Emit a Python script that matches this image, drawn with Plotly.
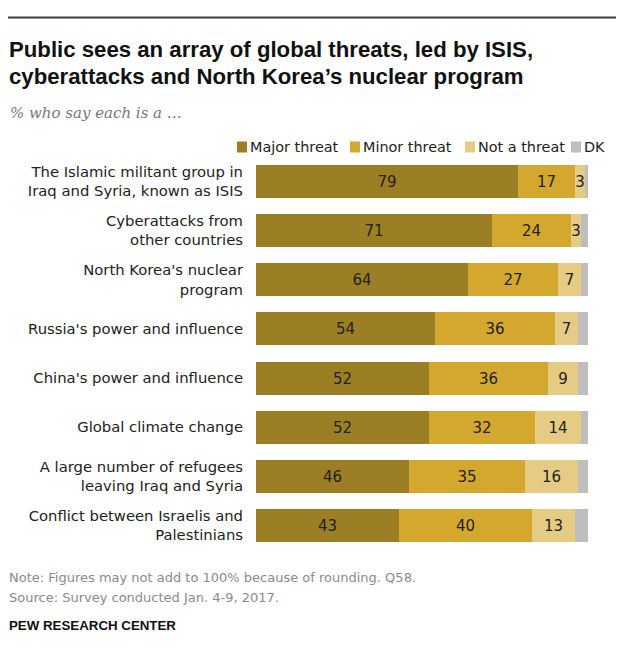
import plotly.graph_objects as go

categories = [
    "The Islamic militant group in<br>Iraq and Syria, known as ISIS",
    "Cyberattacks from<br>other countries",
    "North Korea's nuclear<br>program",
    "Russia's power and influence",
    "China's power and influence",
    "Global climate change",
    "A large number of refugees<br>leaving Iraq and Syria",
    "Conflict between Israelis and<br>Palestinians",
]
major = [79, 71, 64, 54, 52, 52, 46, 43]
minor = [17, 24, 27, 36, 36, 32, 35, 40]
not_threat = [3, 3, 7, 7, 9, 14, 16, 13]
dk = [1, 2, 2, 3, 3, 2, 3, 4]

series_names = ["Major threat", "Minor threat", "Not a threat", "DK"]
series_values = [major, minor, not_threat, dk]
colors = ["#9C7E24", "#D4A82F", "#E6CB85", "#BEBEBE"]
show_text = [True, True, True, False]

OFF = 8  # page body margin
W, H = 624 - OFF, 651 - OFF
L, R, T, B = 256 - OFF, 36, 157 - OFF, 101

SANS = "DejaVu Sans"


def px(x):
    return (x - OFF - L) / (W - L - R)


def py(y):
    return (H - B - (y - OFF)) / (H - T - B)


fig = go.Figure()
ypos = list(range(len(categories)))
for name, vals, col, st in zip(series_names, series_values, colors, show_text):
    fig.add_trace(go.Bar(
        y=ypos, x=vals, orientation="h", name=name,
        marker=dict(color=col, line=dict(width=0)),
        width=0.67,
        text=[str(v) for v in vals] if st else None,
        textposition="inside" if st else "none",
        insidetextanchor="middle",
        textangle=0,
        constraintext="none",
        textfont=dict(family=SANS, size=15, color="#222222"),
        hoverinfo="skip",
    ))

fig.update_layout(
    barmode="stack",
    width=W, height=H,
    margin=dict(l=L, r=R, t=T, b=B, pad=0),
    paper_bgcolor="white", plot_bgcolor="white",
    showlegend=False,
    bargap=0,
    xaxis=dict(range=[0, 100], visible=False, fixedrange=True),
    yaxis=dict(
        range=[len(categories) - 0.5, -0.5],
        tickmode="array", tickvals=ypos, ticktext=categories,
        showgrid=False, zeroline=False, showline=False,
        ticks="", ticklabelstandoff=12,
        tickfont=dict(family=SANS, size=14.8, color="#222222"),
        fixedrange=True,
    ),
    font=dict(family=SANS),
)

ann = []
shapes = []
# top rule
shapes.append(dict(type="line", xref="paper", yref="paper",
                   x0=px(8), x1=px(617), y0=py(17.5), y1=py(17.5),
                   line=dict(color="#3a3a3a", width=2)))
# title (two lines)
title_font = dict(family="Liberation Sans, Arial", size=22.2, color="#111111")
ann.append(dict(xref="paper", yref="paper", x=px(7), y=py(50), xanchor="left", yanchor="middle",
                showarrow=False,
                text="<b>Public sees an array of global threats, led by ISIS,</b>",
                font=title_font))
ann.append(dict(xref="paper", yref="paper", x=px(7), y=py(77), xanchor="left", yanchor="middle",
                showarrow=False,
                text="<b>cyberattacks and North Korea\u2019s nuclear program</b>",
                font=title_font))
# subtitle
ann.append(dict(xref="paper", yref="paper", x=px(8), y=py(113), xanchor="left", yanchor="middle",
                showarrow=False, text="<i>% who say each is a \u2026</i>",
                font=dict(family="DejaVu Serif", size=15, color="#777777")))
# legend
leg_sq = [237, 350, 465, 571]
for name, col, x0 in zip(series_names, colors, leg_sq):
    shapes.append(dict(type="rect", xref="paper", yref="paper",
                       x0=px(x0), x1=px(x0 + 10), y0=py(141.5), y1=py(152.5),
                       fillcolor=col, line=dict(width=0)))
    ann.append(dict(xref="paper", yref="paper", x=px(x0 + 11), y=py(147),
                    xanchor="left", yanchor="middle", showarrow=False, text=name,
                    font=dict(family=SANS, size=14.4, color="#222222")))
# notes
note_font = dict(family=SANS, size=13, color="#8a8a8a")
ann.append(dict(xref="paper", yref="paper", x=px(7), y=py(577), xanchor="left", yanchor="middle",
                showarrow=False,
                text="Note: Figures may not add to 100% because of rounding. Q58.",
                font=note_font))
ann.append(dict(xref="paper", yref="paper", x=px(7), y=py(597), xanchor="left", yanchor="middle",
                showarrow=False,
                text="Source: Survey conducted Jan. 4-9, 2017.",
                font=note_font))
ann.append(dict(xref="paper", yref="paper", x=px(7), y=py(625), xanchor="left", yanchor="middle",
                showarrow=False, text="<b>PEW RESEARCH CENTER</b>",
                font=dict(family="Liberation Sans, Arial", size=13.3, color="#111111")))

fig.update_layout(annotations=ann, shapes=shapes)
fig.write_html("out.html")
